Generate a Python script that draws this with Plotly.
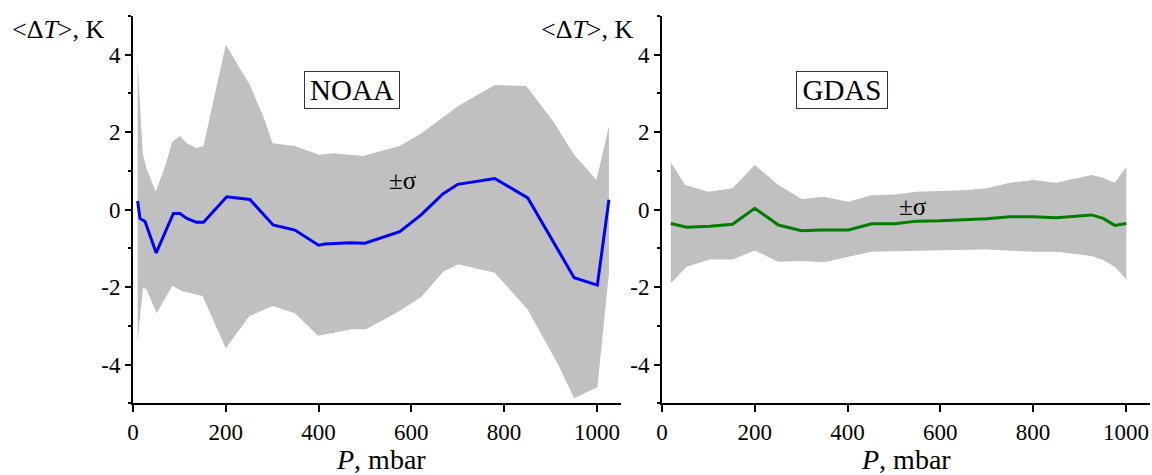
import plotly.graph_objects as go

# ---------------- data ----------------
noaa_P = [10, 15, 26, 50, 87, 101, 116, 137, 152, 202, 252, 302, 349, 400, 414, 468,
          500, 521, 575, 621, 668, 700, 780, 851, 891, 913, 951, 1001, 1026]
noaa_dT = [0.22, -0.23, -0.31, -1.12, -0.1, -0.1, -0.23, -0.33, -0.33, 0.33, 0.26, -0.4,
           -0.53, -0.92, -0.89, -0.86, -0.87, -0.79, -0.57, -0.14, 0.4, 0.65, 0.8, 0.3,
           -0.53, -0.96, -1.76, -1.95, 0.25]

noaa_up_P = [10, 21, 29, 49, 70, 85, 101, 116, 137, 152, 200, 252, 281, 301, 349, 401,
             432, 496, 575, 622, 701, 780, 848, 906, 951, 999, 1026]
noaa_up = [3.79, 1.45, 1.06, 0.46, 1.15, 1.75, 1.9, 1.71, 1.58, 1.64, 4.25, 3.21, 2.4,
           1.71, 1.64, 1.41, 1.45, 1.38, 1.64, 1.97, 2.67, 3.21, 3.19, 2.27, 1.41, 0.76, 2.14]

noaa_lo_P = [10, 22, 29, 51, 65, 85, 105, 119, 150, 200, 251, 301, 349, 399, 471, 502,
             572, 622, 669, 701, 780, 851, 919, 951, 1001, 1026]
noaa_lo = [-3.37, -2.01, -2.06, -2.68, -2.38, -1.97, -2.1, -2.15, -2.23, -3.58, -2.75,
           -2.49, -2.68, -3.26, -3.09, -3.09, -2.64, -2.25, -1.6, -1.41, -1.63, -2.59,
           -4.06, -4.87, -4.59, -1.65]

gdas_P = [19, 53, 103, 152, 200, 251, 301, 341, 402, 452, 502, 549, 599, 700, 750, 800,
          850, 901, 926, 951, 976, 1001]
gdas_dT = [-0.36, -0.46, -0.43, -0.38, 0.03, -0.4, -0.55, -0.53, -0.53, -0.37, -0.37,
           -0.3, -0.29, -0.24, -0.19, -0.19, -0.21, -0.17, -0.14, -0.23, -0.41, -0.36]

gdas_up_P = [19, 50, 100, 152, 200, 251, 301, 348, 402, 452, 502, 549, 650, 700, 750,
             800, 850, 926, 951, 976, 1001]
gdas_up = [1.21, 0.63, 0.46, 0.55, 1.15, 0.63, 0.27, 0.33, 0.2, 0.37, 0.39, 0.46, 0.5,
           0.55, 0.69, 0.76, 0.69, 0.89, 0.82, 0.69, 1.1]

gdas_lo_P = [19, 53, 103, 152, 200, 251, 301, 349, 402, 452, 599, 700, 800, 850, 926,
             951, 976, 1001]
gdas_lo = [-1.9, -1.48, -1.29, -1.29, -1.06, -1.35, -1.33, -1.36, -1.22, -1.09, -1.05,
           -1.03, -1.09, -1.09, -1.2, -1.3, -1.48, -1.8]

x_ticks = [0, 200, 400, 600, 800, 1000]
y_ticks = [-4, -2, 0, 2, 4]
y_ticktext = ["-4", "-2", "0", "2", "4"]
y_minor = [-5, -3, -1, 1, 3, 5]

# ---------------- figure ----------------
FONT = "Liberation Serif"
W, H = 1152, 475

fig = go.Figure()

fig.add_trace(go.Scatter(x=noaa_up_P + noaa_lo_P[::-1], y=noaa_up + noaa_lo[::-1],
                         fill="toself", fillcolor="#c0c0c0", line=dict(width=0),
                         mode="lines", hoverinfo="skip", xaxis="x", yaxis="y"))
fig.add_trace(go.Scatter(x=noaa_P, y=noaa_dT, mode="lines",
                         line=dict(color="#0000ff", width=3), xaxis="x", yaxis="y"))
fig.add_trace(go.Scatter(x=gdas_up_P + gdas_lo_P[::-1], y=gdas_up + gdas_lo[::-1],
                         fill="toself", fillcolor="#c0c0c0", line=dict(width=0),
                         mode="lines", hoverinfo="skip", xaxis="x2", yaxis="y2"))
fig.add_trace(go.Scatter(x=gdas_P, y=gdas_dT, mode="lines",
                         line=dict(color="#007d00", width=3), xaxis="x2", yaxis="y2"))

ydom = [(H - 403.25) / H, (H - 15.75) / H]
xdom1 = [133 / W, 621 / W]
xdom2 = [662 / W, 1150 / W]
TICKFONT = dict(family=FONT, size=23, color="black")

def xax(dom, anchor):
    return dict(domain=dom, anchor=anchor, range=[0, 1052], showgrid=False, zeroline=False,
                showline=True, linecolor="black", linewidth=2, ticks="outside", ticklen=7,
                tickwidth=1.5, tickcolor="black", tickmode="array", tickvals=x_ticks,
                ticktext=[str(v) for v in x_ticks],
                tickfont=TICKFONT, automargin=False)

def yax(anchor):
    return dict(domain=ydom, anchor=anchor, range=[-5, 5], showgrid=False, zeroline=False,
                showline=True, linecolor="black", linewidth=2, ticks="outside", ticklen=6,
                tickwidth=1.5, tickcolor="black", tickmode="array", tickvals=y_ticks,
                ticktext=y_ticktext, tickfont=TICKFONT, automargin=False,
                minor=dict(tickmode="array", tickvals=y_minor, ticks="outside", ticklen=3,
                           tickwidth=1.5, tickcolor="black"))

fig.update_layout(
    width=W, height=H, margin=dict(l=0, r=0, t=0, b=0, autoexpand=False),
    font=dict(family=FONT, size=23, color="black"),
    paper_bgcolor="white", plot_bgcolor="white", showlegend=False,
    xaxis=xax(xdom1, "y"), yaxis=yax("x"),
    xaxis2=xax(xdom2, "y2"), yaxis2=yax("x2"),
)

def px(x, y):
    return x / W, 1 - y / H

annots = []
for cx in (58, 587):
    x, y = px(cx, 30)
    annots.append(dict(x=x, y=y, xref="paper", yref="paper", showarrow=False,
                       text="&lt;Δ<i>T</i>&gt;, K", font=dict(family=FONT, size=26, color="black"),
                       xanchor="center", yanchor="middle"))
for cx in (381, 906):
    x, y = px(cx, 459)
    annots.append(dict(x=x, y=y, xref="paper", yref="paper", showarrow=False,
                       text="<i>P</i>, mbar", font=dict(family=FONT, size=28, color="black"),
                       xanchor="center", yanchor="middle"))
for cx, cy, w, t in ((352, 90, 92, "NOAA"), (842, 89.5, 88, "GDAS")):
    x, y = px(cx, cy)
    annots.append(dict(x=x, y=y, xref="paper", yref="paper", showarrow=False, text=t,
                       font=dict(family=FONT, size=29, color="black"), width=w, height=34,
                       bordercolor="#333333", borderwidth=1, borderpad=1, bgcolor="white",
                       xanchor="center", yanchor="middle"))
for cx, cy in ((403, 181), (913, 206)):
    x, y = px(cx, cy)
    annots.append(dict(x=x, y=y, xref="paper", yref="paper", showarrow=False, text="±σ",
                       font=dict(family=FONT, size=25, color="black"),
                       xanchor="center", yanchor="middle"))
fig.update_layout(annotations=annots)

fig.write_html("out.html", config={"displayModeBar": False},
               post_script="document.body.style.margin='0';")
